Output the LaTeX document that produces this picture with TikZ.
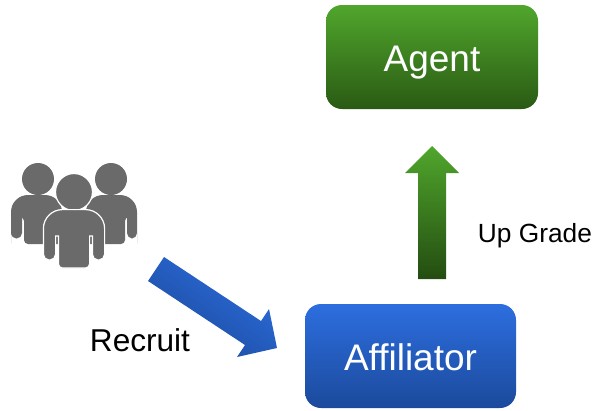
\documentclass[tikz,border=0pt]{standalone}
\usepackage{fontspec}
\setmainfont{Liberation Sans}
\definecolor{greenT}{HTML}{50A62C}
\definecolor{greenB}{HTML}{2A5A14}
\definecolor{blueT}{HTML}{2D6EDF}
\definecolor{blueB}{HTML}{1B4A9C}
\definecolor{people}{HTML}{6A6A6A}
\tikzset{
  boxnode/.style={rounded corners=16pt,minimum width=212pt,minimum height=104pt,inner sep=0pt},
  boxtext/.style={text=white,inner sep=0pt,anchor=base,font=\fontsize{37}{37}\selectfont},
  labeltext/.style={inner sep=0pt,text=black,anchor=base},
  personfill/.style={fill=people,draw=none},
  personhalo/.style={fill=people,draw=white,line width=1.2pt}
}
\begin{document}
\begin{tikzpicture}[x=1pt,y=-1pt]
\useasboundingbox (0,0) rectangle (596,410);
% boxes
\node[boxnode,top color=greenT,bottom color=greenB] (agent) at (432,57) {};
\node[boxnode,top color=blueT,bottom color=blueB,minimum width=211pt] (aff) at (410.5,356) {};
\node[boxtext] (agentT) at (432,71) {Agent};
\node[boxtext] (affT) at (410.5,370) {Affiliator};
% green arrow
\shade[top color=greenT,bottom color=greenB!85!black]
  (432,146) -- (459,173) -- (446,173) -- (446,279) -- (418,279) -- (418,173) -- (405,173) -- cycle;
% blue arrow
\shade[top color=blueT,bottom color=blueB,shading angle=-35]
  (164,257) -- (261,321) -- (269,309) -- (277,348) -- (237,357) -- (245,345) -- (148,281) -- cycle;
% labels
\node[labeltext,font=\fontsize{26.3}{26.3}\selectfont] (upg) at (535,242) {Up Grade};
\node[labeltext,font=\fontsize{31.6}{31.6}\selectfont] (rec) at (140,351) {Recruit};
% people: back figures
\fill[personfill] (38,179) circle (16);
\fill[personfill] (111,179) circle (16);
\fill[personfill,rounded corners=5.4pt]
  (11,238) -- (11,220) [rounded corners=17pt] -- (11,195) -- (62,195) [rounded corners=4pt] -- (62,244) -- (24,244) -- (24,217) [rounded corners=0pt] -- (22,217) [rounded corners=5.4pt] -- (22,238.5) -- (11,238.5) -- cycle;
\fill[personfill,rounded corners=5.4pt]
  (137,238) -- (137,220) [rounded corners=17pt] -- (137,195) -- (86,195) [rounded corners=4pt] -- (86,244) -- (125,244) -- (125,217) [rounded corners=0pt] -- (127,217) [rounded corners=5.4pt] -- (127,238.5) -- (137,238.5) -- cycle;
% people: front figure
\filldraw[personhalo] (74,192) circle (18.5);
\filldraw[personhalo,rounded corners=5.6pt]
  (43.4,260) -- (43.4,235) [rounded corners=19pt] -- (43.4,209.6) -- (104.6,209.6) [rounded corners=5.6pt] -- (104.6,260) -- (92.4,260) [rounded corners=0pt] -- (92.4,236) -- (89.6,236) [rounded corners=4pt] -- (89.6,268) -- (58.4,268) [rounded corners=0pt] -- (58.4,236) -- (55.6,236) [rounded corners=5.6pt] -- (55.6,260) -- cycle;
\end{tikzpicture}
\end{document}
